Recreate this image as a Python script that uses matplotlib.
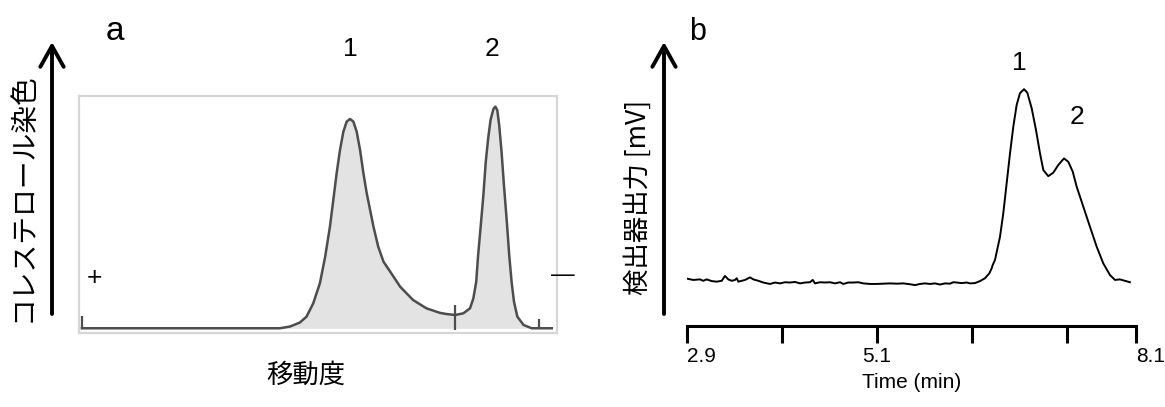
import matplotlib
matplotlib.use('Agg')
import matplotlib.pyplot as plt
from matplotlib.transforms import ScaledTranslation

# panel a: densitometry trace of the electrophoresis lane (mobility, staining)
lane_x = [0.6, 42.0, 44.1, 46.2, 47.6, 49.0, 50.4, 51.5, 52.5, 53.2, 53.9, 54.6,
          55.3, 56.0, 56.7, 57.4, 58.1, 58.8, 59.5, 60.2, 60.9, 61.6, 62.6, 63.7,
          65.1, 67.2, 69.9, 72.7, 75.5, 76.9, 78.7, 80.4, 81.8, 82.5, 83.1, 83.5,
          84.0, 84.6, 85.1, 85.6, 86.1, 86.7, 87.1, 87.5, 87.9, 88.4, 88.9, 89.5,
          90.0, 90.5, 91.0, 91.7, 93.0, 94.7, 98.9]
lane_y = [2.0, 2.0, 2.7, 4.4, 6.9, 12.5, 21.0, 32.2, 44.9, 56.1, 67.4, 77.2,
          84.9, 89.2, 90.3, 89.2, 84.9, 77.2, 67.4, 58.9, 51.9, 44.9, 36.4, 30.1,
          25.9, 19.5, 13.9, 10.4, 8.5, 8.0, 7.6, 8.3, 10.4, 14.6, 21.6, 32.9,
          44.2, 58.2, 72.3, 82.1, 89.9, 94.5, 95.5, 94.1, 87.8, 76.5, 62.4, 47.0,
          32.9, 21.6, 13.2, 6.9, 3.4, 2.0, 2.0]
lane_base = 2.0
marker_x = [0.6, 78.6, 96.3]
marker_top = [7.2, 11.8, 5.9]
marker_bottom = [2.0, 1.3, 2.0]
peak_labels_a = ['1', '2']
peak_pos_a = [56.8, 86.5]

# panel b: HPLC chromatogram
time_min = [2.877, 2.973, 3.050, 3.089, 3.128, 3.186, 3.244, 3.302, 3.340, 3.378,
            3.418, 3.456, 3.476, 3.494, 3.533, 3.572, 3.630, 3.668, 3.726, 3.784,
            3.861, 3.919, 3.977, 4.035, 4.093, 4.151, 4.209, 4.267, 4.324, 4.356,
            4.382, 4.440, 4.498, 4.556, 4.614, 4.672, 4.710, 4.768, 4.826, 4.884,
            4.942, 5.019, 5.097, 5.173, 5.251, 5.328, 5.405, 5.483, 5.540, 5.598,
            5.656, 5.714, 5.772, 5.830, 5.888, 5.946, 5.984, 6.023, 6.081, 6.139,
            6.177, 6.235, 6.293, 6.351, 6.401, 6.429, 6.440, 6.467, 6.525, 6.563,
            6.602, 6.641, 6.679, 6.718, 6.756, 6.803, 6.841, 6.892, 6.942, 6.988,
            7.027, 7.084, 7.142, 7.200, 7.266, 7.316, 7.367, 7.413, 7.490, 7.567,
            7.645, 7.721, 7.799, 7.857, 7.914, 7.972, 8.030]
signal_mv = [16.7, 16.1, 16.3, 15.8, 16.3, 15.7, 15.5, 15.8, 17.5, 16.3,
             15.8, 16.1, 16.7, 15.5, 15.8, 16.1, 17.0, 16.3, 15.8, 15.2,
             14.7, 15.2, 14.9, 15.3, 15.2, 15.4, 14.9, 15.2, 15.3, 16.1,
             14.9, 15.3, 15.2, 15.3, 14.9, 15.3, 14.7, 15.2, 15.2, 15.3,
             14.9, 14.7, 14.7, 14.8, 14.9, 14.8, 14.9, 14.6, 14.3, 14.7,
             14.9, 14.7, 14.9, 14.5, 14.9, 14.8, 15.3, 15.2, 15.0, 15.2,
             14.9, 15.0, 15.7, 16.7, 18.4, 20.2, 21.3, 23.1, 31.2, 39.4,
             49.9, 60.4, 69.7, 77.3, 81.4, 82.8, 81.6, 76.1, 68.5, 60.4,
             54.5, 52.4, 53.6, 56.3, 58.6, 57.4, 54.0, 48.7, 41.7, 34.7,
             27.7, 21.9, 17.8, 16.1, 16.3, 15.8, 15.3]
tick_pos = [2.9, 4.0, 5.1, 6.2, 7.3, 8.1]
tick_text = ['2.9', '', '5.1', '', '', '8.1']
peak_labels_b = ['1', '2']
peak_pos_b = [6.75, 7.42]
peak_text_y = [92, 73]

W, H = 1165, 407
cjk = ['Noto Sans CJK JP', 'DejaVu Sans']
latin = ['Liberation Sans', 'DejaVu Sans']


def fx(px):
    return px / W


def fy(py):
    return 1 - py / H


fig = plt.figure(figsize=(W / 100, H / 100), dpi=100)

# ---- panel a ----
ax1 = fig.add_axes([fx(79), fy(333), fx(557) - fx(79), fy(96) - fy(333)])
ax1.fill_between(lane_x, lane_base, lane_y, color='#e3e3e3', lw=0)
ax1.plot(lane_x, lane_y, color='#4d4d4d', lw=1.8, solid_joinstyle='round')
ax1.vlines(marker_x, marker_bottom, marker_top, color='#4d4d4d', lw=1.6)
ax1.set_xlim(0, 100)
ax1.set_ylim(0, 100)
ax1.set_xticks([])
ax1.set_yticks([])
for s in ax1.spines.values():
    s.set_color('#d6d6d6')
    s.set_linewidth(1.6)
for lab, xp in zip(peak_labels_a, peak_pos_a):
    ax1.text(xp, 120, lab, ha='center', va='center', fontsize=19,
             family=latin, clip_on=False)

fig.text(fx(115), fy(32), 'a', ha='center', va='center', fontsize=24, family=latin)
fig.text(fx(94), fy(278), '+', ha='center', va='center', fontsize=19, family=latin)
fig.text(fx(563), fy(275), '—', ha='center', va='center', fontsize=17, family=latin)
fig.text(fx(23), fy(197), 'コレステロール染色', rotation=90, ha='center', va='center',
         fontsize=20, family=cjk)
fig.text(fx(306), fy(375), '移動度', ha='center', va='center', fontsize=19, family=cjk)
fig.add_artist(matplotlib.patches.FancyArrowPatch(
    (fx(52), fy(314)), (fx(52), fy(42)), transform=fig.transFigure,
    arrowstyle='->,head_length=0.75,head_width=0.42', mutation_scale=20,
    lw=2.8, color='black', shrinkA=0, shrinkB=0))

# ---- panel b ----
ax2 = fig.add_axes([fx(687), fy(326), fx(1136) - fx(687), fy(40) - fy(326)])
ax2.plot(time_min, signal_mv, color='black', lw=1.4)
ax2.set_xlim(2.9, 8.1)
ax2.set_ylim(0, 100)
ax2.set_yticks([])
ax2.set_xticks(tick_pos)
ax2.set_xticklabels(tick_text, fontsize=15, family=latin)
labs = ax2.get_xticklabels()
labs[0].set_ha('left')
labs[-1].set_ha('left')
labs[-1].set_transform(labs[-1].get_transform()
                       + ScaledTranslation(-6 / 100, 0, fig.dpi_scale_trans))
ax2.tick_params(axis='x', direction='out', length=12, width=2.2, pad=3)
for side in ['left', 'top', 'right']:
    ax2.spines[side].set_visible(False)
ax2.spines['bottom'].set_linewidth(2.2)
ax2.patch.set_visible(False)
ax2.set_xlabel('Time (min)', fontsize=15, family=latin, labelpad=5)
for lab, xp, yp in zip(peak_labels_b, peak_pos_b, peak_text_y):
    ax2.text(xp, yp, lab, ha='center', va='center', fontsize=19, family=latin)

fig.text(fx(698), fy(32), 'b', ha='center', va='center', fontsize=22, family=latin)
fig.text(fx(638), fy(197), '検出器出力 [mV]', rotation=90, ha='center', va='center',
         fontsize=19, family=cjk)
fig.add_artist(matplotlib.patches.FancyArrowPatch(
    (fx(664), fy(314)), (fx(664), fy(42)), transform=fig.transFigure,
    arrowstyle='->,head_length=0.75,head_width=0.42', mutation_scale=20,
    lw=2.8, color='black', shrinkA=0, shrinkB=0))

fig.savefig('out.png', dpi=100)
